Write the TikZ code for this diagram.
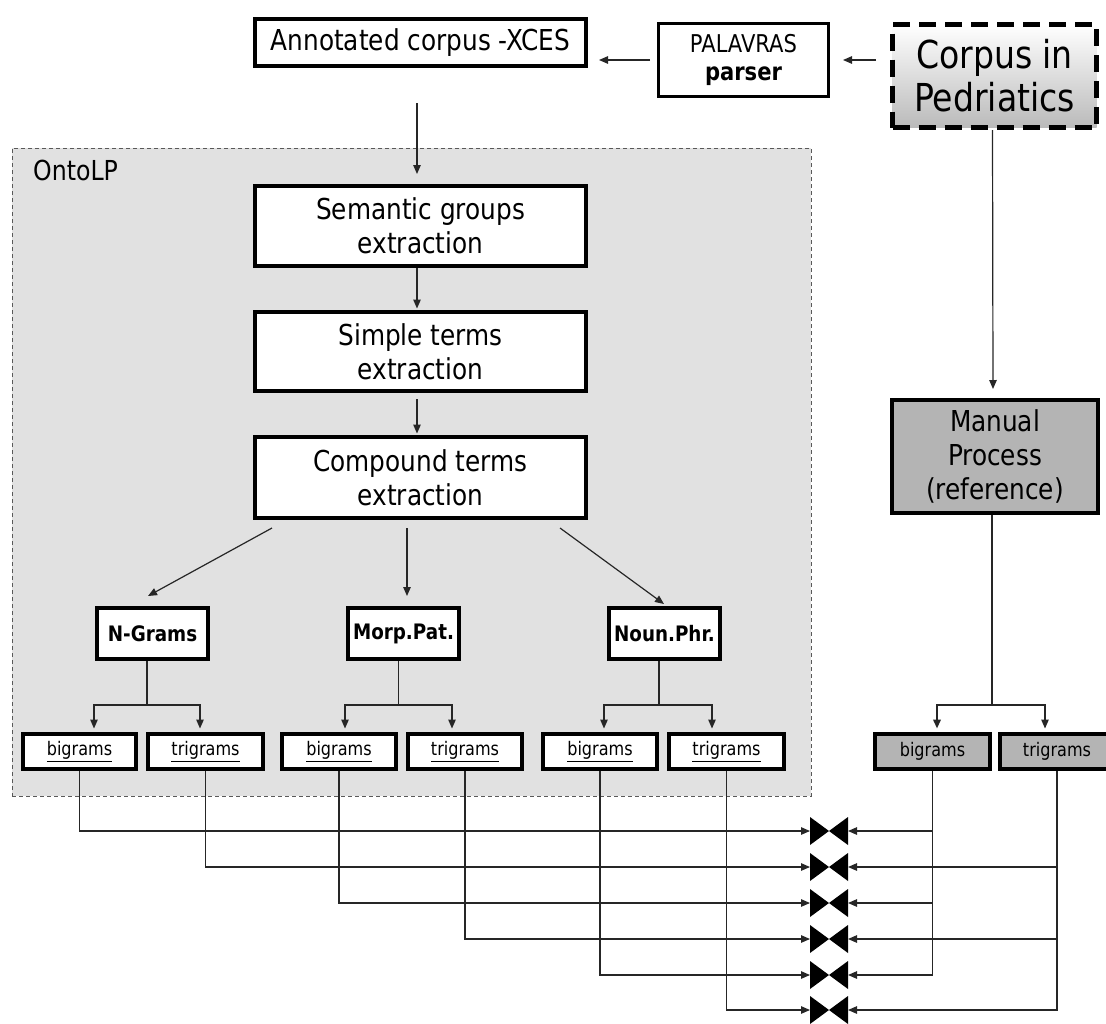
\documentclass[tikz,border=0pt]{standalone}
\usepackage{fontspec}
\setmainfont{DejaVu Sans}[FakeStretch=0.86]
\usetikzlibrary{arrows.meta}
\definecolor{regfill}{RGB}{225,225,225}
\definecolor{boxgray}{RGB}{180,180,180}
\begin{document}
\begin{tikzpicture}[x=1pt,y=-1pt,
  box/.style={draw=black, line width=3.6pt, fill=white, inner sep=0pt, align=center, text=black},
  bigbox/.style={box, minimum width=331.4pt, font=\fontsize{28.8pt}{34pt}\selectfont},
  methbox/.style={box, minimum width=111.4pt, minimum height=51.4pt, font=\bfseries\fontsize{21.3pt}{24pt}\selectfont},
  gramsbox/.style={box, minimum height=35.4pt, font=\fontsize{18.7pt}{20pt}\selectfont},
  graybox/.style={gramsbox, fill=boxgray},
  region/.style={draw=black!65, line width=1pt, dash pattern=on 4pt off 3pt, fill=regfill, inner sep=0pt},
  ln/.style={line width=1.2pt, draw=black!85},
  arr/.style={ln, -{Triangle[length=9pt,width=7.5pt]}},
  bowtie/.style={inner sep=0pt, outer sep=0pt, minimum width=38pt, minimum height=28pt}
]
\useasboundingbox (0,0) rectangle (1106,1023);
\clip (0,0) rectangle (1106,1023);

% OntoLP region
\node[region, minimum width=799pt, minimum height=648pt] (reg) at (411.5,472) {};
\node[anchor=base west, inner sep=0pt, font=\fontsize{27.5pt}{30pt}\selectfont] (onto) at (33,180) {OntoLP};

% top row
\node[bigbox, minimum height=47.4pt] (ann) at (420.5,42.5) {Annotated corpus -XCES};
\node[box, line width=3pt, minimum width=170pt, minimum height=73pt, font=\fontsize{24.5pt}{28pt}\selectfont] (pal) at (743.5,60) {PALAVRAS\\\textbf{parser}};
\node[draw=black, line width=5pt, dash pattern=on 17pt off 9pt, top color=white, middle color=black!6, bottom color=black!27,
      minimum width=204pt, minimum height=103pt, inner sep=0pt, align=center, font=\fontsize{38.5pt}{43pt}\selectfont] (corpus) at (994.5,76) {Corpus in\\Pedriatics};

% OntoLP steps
\node[bigbox, minimum height=80.4pt] (sem) at (420.5,226) {Semantic groups\\extraction};
\node[bigbox, minimum height=79.4pt] (sim) at (420.5,351.5) {Simple terms\\extraction};
\node[bigbox, minimum height=81.4pt] (comp) at (420.5,477.5) {Compound terms\\extraction};

\node[methbox] (ngr) at (152.5,633.5) {N-Grams};
\node[methbox] (morp) at (403.5,633.5) {Morp.Pat.};
\node[methbox] (noun) at (664.5,633.5) {Noun.Phr.};

\node[gramsbox, minimum width=113.4pt] (b1) at (79.5,751.5) {\underline{bigrams}};
\node[gramsbox, minimum width=115.4pt] (t1) at (205.5,751.5) {\underline{trigrams}};
\node[gramsbox, minimum width=114.4pt] (b2) at (339,751.5) {\underline{bigrams}};
\node[gramsbox, minimum width=114.4pt] (t2) at (465,751.5) {\underline{trigrams}};
\node[gramsbox, minimum width=114.4pt] (b3) at (600,751.5) {\underline{bigrams}};
\node[gramsbox, minimum width=115.4pt] (t3) at (726.5,751.5) {\underline{trigrams}};

% manual side
\node[box, fill=boxgray, minimum width=206.4pt, minimum height=113.4pt, font=\fontsize{28.8pt}{34pt}\selectfont] (manual) at (995,456.5) {Manual\\Process\\(reference)};
\node[graybox, minimum width=115.4pt] (gb) at (932.5,751.5) {bigrams};
\node[graybox, minimum width=114.4pt] (gt) at (1057,751.5) {trigrams};

% top connectors
\coordinate (c1) at ([xshift=-14pt]corpus.west);
\draw[arr] (c1 |- pal.east) -- ([xshift=13pt]pal.east);
\coordinate (a1) at ([xshift=11pt]ann.east);
\draw[arr] ([xshift=-7pt]pal.west) -- (a1 |- pal.west);
\draw[arr] ([xshift=-2pt]corpus.south) -- ([xshift=-2pt,yshift=9pt]manual.north);

\draw[arr] ([xshift=-3.5pt,yshift=-35pt]ann.south) -- ([xshift=-3.5pt,yshift=10pt]sem.north);
\draw[arr] ([xshift=-3.5pt]sem.south) -- ([xshift=-3.5pt,yshift=1.5pt]sim.north);
\draw[arr] ([xshift=-3.5pt,yshift=-6pt]sim.south) -- ([xshift=-3.5pt,yshift=1.5pt]comp.north);

\draw[arr] ([xshift=-148.5pt,yshift=-8pt]comp.south) -- ([xshift=-4.5pt,yshift=10pt]ngr.north);
\draw[arr] ([xshift=-13.5pt,yshift=-8pt]comp.south) -- ([xshift=3.5pt,yshift=10pt]morp.north);
\draw[arr] ([xshift=139.5pt,yshift=-8pt]comp.south) -- ([xshift=-0.5pt,yshift=2pt]noun.north);

% branches
\coordinate (jn) at (147,705);
\coordinate (jm) at (398.5,705);
\coordinate (jp) at (659,705);
\coordinate (jr) at (992,705);
\draw[ln] (ngr.south -| jn) -- (jn);
\draw[arr] (jn) -| ([xshift=14.5pt,yshift=3.5pt]b1.north);
\draw[arr] (jn) -| ([xshift=-5.5pt,yshift=3.5pt]t1.north);
\draw[ln] (morp.south -| jm) -- (jm);
\draw[arr] (jm) -| ([xshift=6pt,yshift=3.5pt]b2.north);
\draw[arr] (jm) -| ([xshift=-13pt,yshift=3.5pt]t2.north);
\draw[ln] (noun.south -| jp) -- (jp);
\draw[arr] (jp) -| ([xshift=4pt,yshift=3.5pt]b3.north);
\draw[arr] (jp) -| ([xshift=-14.5pt,yshift=3.5pt]t3.north);
\draw[ln, line width=2pt] (manual.south -| jr) -- (jr);
\draw[arr, line width=2pt] (jr) -| ([xshift=4.5pt,yshift=3.5pt]gb.north);
\draw[arr] (jr) -| ([xshift=-12pt,yshift=3.5pt]gt.north);

% bowties
\foreach \i/\y in {1/831,2/867,3/903,4/939,5/975,6/1010} {
  \node[bowtie] (bt\i) at (829,\y) {};
  \fill[black] (bt\i.north west) -- (bt\i.center) -- (bt\i.south west) -- cycle
               (bt\i.north east) -- (bt\i.center) -- (bt\i.south east) -- cycle;
}

\draw[arr] (b1.south) |- (bt1.west);
\draw[arr] (t1.south) |- (bt2.west);
\draw[arr] (b2.south) |- (bt3.west);
\draw[arr] (t2.south) |- (bt4.west);
\draw[arr] (b3.south) |- (bt5.west);
\draw[arr] (t3.south) |- (bt6.west);

\draw[arr] (gb.south) |- (bt1.east);
\draw[arr] (gb.south) |- (bt3.east);
\draw[arr] (gb.south) |- (bt5.east);
\draw[arr] (gt.south) |- (bt2.east);
\draw[arr] (gt.south) |- (bt4.east);
\draw[arr] (gt.south) |- (bt6.east);
\end{tikzpicture}
\end{document}
